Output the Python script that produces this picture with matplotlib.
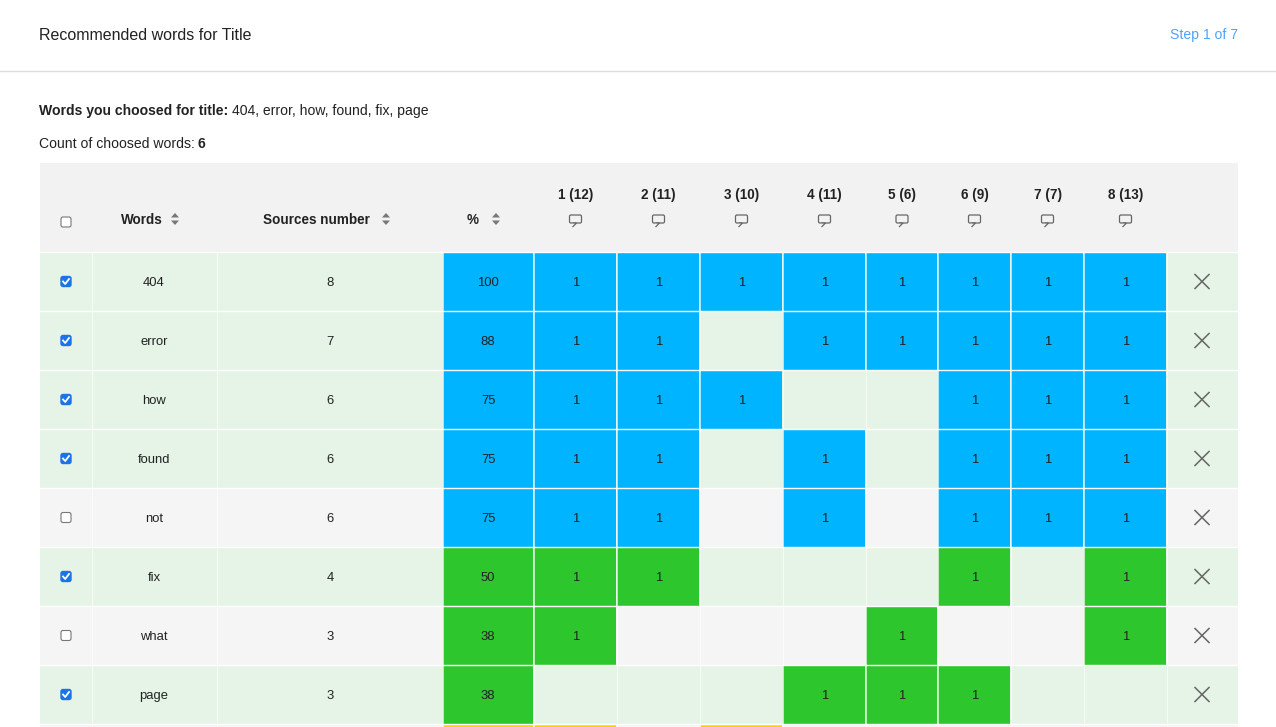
import matplotlib
matplotlib.use("Agg")
import matplotlib.pyplot as plt
from matplotlib.patches import Rectangle, FancyBboxPatch, Polygon

words = ["404", "error", "how", "found", "not", "fix", "what", "page", "in"]
checked = [1, 1, 1, 1, 0, 1, 0, 1, 0]
sources = [8, 7, 6, 6, 6, 4, 3, 3, 2]
percent = [100, 88, 75, 75, 75, 50, 38, 38, 25]
src_labels = ["1 (12)", "2 (11)", "3 (10)", "4 (11)", "5 (6)", "6 (9)", "7 (7)", "8 (13)"]
matrix = [
    [1, 1, 1, 1, 1, 1, 1, 1],
    [1, 1, 0, 1, 1, 1, 1, 1],
    [1, 1, 1, 0, 0, 1, 1, 1],
    [1, 1, 0, 1, 0, 1, 1, 1],
    [1, 1, 0, 1, 0, 1, 1, 1],
    [1, 1, 0, 0, 0, 1, 0, 1],
    [1, 0, 0, 0, 1, 0, 0, 1],
    [0, 0, 0, 1, 1, 1, 0, 0],
    [1, 0, 1, 0, 0, 0, 0, 0],
]

FONT = "Liberation Sans"
fig = plt.figure(figsize=(12.76, 7.27), dpi=100)
ax = fig.add_axes([0, 0, 1, 1])
ax.set_xlim(0, 1276); ax.set_ylim(727, 0); ax.axis("off")
fig.patch.set_facecolor("white")

def px(s):
    return s * 0.72

def color_for(p):
    if p >= 70: return "#00b4ff"
    if p >= 30: return "#2dc62d"
    return "#ffd200"

# top bar
ax.text(39, 34, "Recommended words for Title", fontsize=px(16), family=FONT, color="#222", va="center_baseline")
ax.text(1238, 34, "Step 1 of 7", fontsize=px(14), family=FONT, color="#4da3ff", va="center_baseline", ha="right")
ax.plot([0, 1276], [70.5, 70.5], color="#dddddd", lw=1)
ax.text(39, 110, "Words you choosed for title:", fontsize=px(14), family=FONT, weight="bold", color="#222", va="center_baseline")
ax.text(232, 110, "404, error, how, found, fix, page", fontsize=px(14), family=FONT, color="#222", va="center_baseline")
ax.text(39, 142, "Count of choosed words:", fontsize=px(14), family=FONT, color="#222", va="center_baseline")
ax.text(198, 142, "6", fontsize=px(14), family=FONT, weight="bold", color="#222", va="center_baseline")

edges = [40, 92, 217, 443, 534, 617, 700, 783, 866, 938, 1011, 1084, 1167, 1238]
top, hh, rh = 163, 89, 59
ax.add_patch(Rectangle((40, top), 1198, hh, color="#f2f2f2", lw=0))

def checkbox(cx, cy, on):
    if on:
        ax.add_patch(FancyBboxPatch((cx-5, cy-5), 10, 10, boxstyle="round,pad=0,rounding_size=2", fc="#1a73e8", ec="#1a73e8", lw=1))
        ax.plot([cx-3, cx-0.8, cx+3], [cy, cy+2.5, cy-2.5], color="white", lw=1.3)
    else:
        ax.add_patch(FancyBboxPatch((cx-5, cy-5), 10, 10, boxstyle="round,pad=0,rounding_size=2", fc="white", ec="#777", lw=0.8))

def sorter(x, y):
    ax.add_patch(Polygon([(x-4, y-1.5), (x+4, y-1.5), (x, y-6)], color="#777", lw=0))
    ax.add_patch(Polygon([(x-4, y+1.5), (x+4, y+1.5), (x, y+6)], color="#777", lw=0))

hy = 219
checkbox(66, 222, False)
hs = dict(fontsize=px(13.5), family=FONT, weight="bold", color="#222", va="center_baseline", ha="center")
ax.text(142, hy, "Words", **hs); sorter(175, hy)
ax.text(316, hy, "Sources number", **hs); sorter(386, hy)
ax.text(473, hy, "%", **hs); sorter(496, hy)
for i, lab in enumerate(src_labels):
    cx = (edges[4+i] + edges[5+i]) / 2
    ax.text(cx, 194, lab, **hs)
    ax.add_patch(FancyBboxPatch((cx-6, 215), 12, 8, boxstyle="round,pad=0,rounding_size=1.5", fc="none", ec="#666", lw=0.9))
    ax.add_patch(Polygon([(cx-3, 223), (cx+1, 223), (cx-3, 227)], fc="#f2f2f2", ec="#666", lw=0.9, closed=False))

ts = dict(fontsize=px(13), family=FONT, color="#222", va="center_baseline", ha="center")
for r, w in enumerate(words):
    y0 = top + hh + r * rh
    show = y0 + rh / 2 < 727
    bg = "#e5f4e6" if checked[r] else "#f5f5f5"
    ax.add_patch(Rectangle((40, y0), 1198, rh, fc=bg, lw=0))
    for e in edges[1:-1]:
        ax.plot([e, e], [y0, y0+rh], color="white", lw=0.6, alpha=0.8)
    ax.plot([40, 1238], [y0, y0], color="white", lw=1)
    cy = y0 + rh/2
    col = color_for(percent[r])
    ax.add_patch(Rectangle((edges[3], y0+0.5), edges[4]-edges[3]-1, rh-1, fc=col, lw=0))
    for c, v in enumerate(matrix[r]):
        if v:
            ax.add_patch(Rectangle((edges[4+c], y0+0.5), edges[5+c]-edges[4+c]-1, rh-1, fc=col, lw=0))
            if show:
                ax.text((edges[4+c]+edges[5+c])/2, cy, str(v), **ts)
    if not show:
        continue
    checkbox(66, cy, checked[r])
    ax.text(154, cy, w, **ts)
    ax.text(330, cy, str(sources[r]), **ts)
    ax.text(488, cy, str(percent[r]), **ts)
    xc = 1202
    ax.plot([xc-7, xc+7], [cy-7, cy+7], color="#666", lw=1.1)
    ax.plot([xc-7, xc+7], [cy+7, cy-7], color="#666", lw=1.1)

fig.savefig("out.png", dpi=100)
